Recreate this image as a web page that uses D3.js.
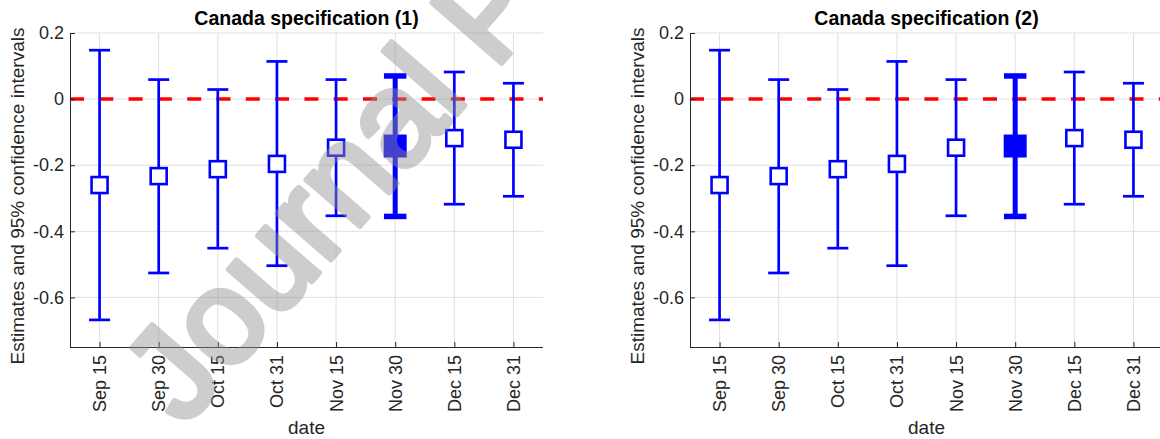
<!DOCTYPE html>
<html>
<head>
<meta charset="utf-8">
<script src="https://cdn.jsdelivr.net/npm/d3@7"></script>
<style>
  html, body { margin: 0; padding: 0; background: #fff; }
  svg { display: block; font-family: "Liberation Sans", Arial, Helvetica, sans-serif; }
</style>
</head>
<body>
<svg id="chart" width="1160" height="439"></svg>
<script>
// ---- data ----
const dates = ["Sep 15", "Sep 30", "Oct 15", "Oct 31", "Nov 15", "Nov 30", "Dec 15", "Dec 31"];
const estimates1 = [-0.260, -0.233, -0.212, -0.196, -0.147, -0.142, -0.118, -0.123];
const upper1     = [0.148, 0.059, 0.029, 0.114, 0.059, 0.070, 0.082, 0.048];
const lower1     = [-0.668, -0.526, -0.451, -0.504, -0.353, -0.355, -0.318, -0.294];
const estimates2 = [-0.260, -0.233, -0.212, -0.196, -0.147, -0.142, -0.118, -0.123];
const upper2     = [0.148, 0.059, 0.029, 0.114, 0.059, 0.070, 0.082, 0.048];
const lower2     = [-0.668, -0.526, -0.451, -0.504, -0.353, -0.355, -0.318, -0.294];
const highlighted = ["Nov 30"];
const yTicks = [0.2, 0, -0.2, -0.4, -0.6];
const yTickLabels = ["0.2", "0", "-0.2", "-0.4", "-0.6"];
const titles = ["Canada specification (1)", "Canada specification (2)"];
const xLabel = "date";
const yLabel = "Estimates and 95% confidence intervals";
const watermark = "Journal Pre-proof";

// ---- layout ----
const svg = d3.select("#chart");
const panels = [
  { left: 70, right: 543, est: estimates1, lo: lower1, hi: upper1, title: titles[0] },
  { left: 690, right: 1163, est: estimates2, lo: lower2, hi: upper2, title: titles[1] }
];
const plotTop = 33, plotBottom = 347;
const axisColor = "#262626";
const gridColor = "#e0e0e0";
const blue = "#0000ff";
const fontFam = "Liberation Sans, Arial, sans-serif";

panels.forEach(p => {
  const g = svg.append("g");
  const x = d3.scaleLinear().domain([0.5, dates.length + 0.5]).range([p.left, p.right]);
  const y = d3.scaleLinear().domain([-0.75, 0.2]).range([plotBottom, plotTop]);
  const xi = d => x(dates.indexOf(d) + 1);

  // grid
  g.append("g").selectAll("line").data(dates).join("line")
    .attr("x1", d => xi(d)).attr("x2", d => xi(d))
    .attr("y1", plotTop).attr("y2", plotBottom)
    .attr("stroke", gridColor).attr("stroke-width", 1);
  g.append("g").selectAll("line").data(yTicks).join("line")
    .attr("x1", p.left).attr("x2", p.right)
    .attr("y1", d => y(d)).attr("y2", d => y(d))
    .attr("stroke", gridColor).attr("stroke-width", 1);

  // zero line
  g.append("line")
    .attr("x1", p.left).attr("x2", p.right)
    .attr("y1", y(0)).attr("y2", y(0))
    .attr("stroke", "#ff0000").attr("stroke-width", 3.5)
    .attr("stroke-dasharray", "14,15.3");

  // axes
  const yAxis = d3.axisLeft(y).tickValues(yTicks)
    .tickFormat((d, i) => yTickLabels[i]).tickSize(-5).tickPadding(6);
  const ya = g.append("g").attr("transform", `translate(${p.left},0)`).call(yAxis);
  ya.select(".domain").attr("stroke", axisColor).attr("d", `M0.5,${plotTop}V${plotBottom}`);
  ya.selectAll(".tick line").attr("stroke", axisColor);
  ya.selectAll(".tick text").attr("fill", axisColor).attr("font-size", 18)
    .attr("font-family", fontFam);

  const xAxis = d3.axisBottom(x).tickValues(d3.range(1, dates.length + 1))
    .tickFormat(d => dates[d - 1]).tickSize(-5);
  const xa = g.append("g").attr("transform", `translate(0,${plotBottom})`).call(xAxis);
  xa.select(".domain").attr("stroke", axisColor).attr("d", `M${p.left},0.5H${p.right}`);
  xa.selectAll(".tick line").attr("stroke", axisColor);
  xa.selectAll(".tick text")
    .attr("fill", axisColor).attr("font-size", 18)
    .attr("font-family", fontFam)
    .attr("text-anchor", "end")
    .attr("dy", null).attr("y", null)
    .attr("dominant-baseline", "central")
    .attr("transform", "translate(0,8) rotate(-90)");

  // error bars
  const bars = g.append("g");
  dates.forEach((d, i) => {
    const hl = highlighted.includes(d);
    const cx = xi(d);
    const lw = hl ? 5 : 2.7;
    const cw = hl ? 22.5 : 21;
    const cap = hl ? 5.5 : 2.7;
    bars.append("line").attr("x1", cx).attr("x2", cx)
      .attr("y1", y(p.hi[i])).attr("y2", y(p.lo[i]))
      .attr("stroke", blue).attr("stroke-width", lw);
    [p.hi[i], p.lo[i]].forEach(v => {
      bars.append("line").attr("x1", cx - cw / 2).attr("x2", cx + cw / 2)
        .attr("y1", y(v)).attr("y2", y(v))
        .attr("stroke", blue).attr("stroke-width", cap);
    });
    const s = hl ? 20 : 16;
    bars.append("rect")
      .attr("x", cx - s / 2).attr("y", y(p.est[i]) - s / 2)
      .attr("width", s).attr("height", s)
      .attr("fill", hl ? blue : "#ffffff")
      .attr("stroke", blue).attr("stroke-width", hl ? 3 : 2.6);
  });

  // title
  g.append("text").attr("x", (p.left + p.right) / 2).attr("y", 25)
    .attr("text-anchor", "middle").attr("font-size", 19.5).attr("font-weight", "bold")
    .attr("fill", "#000").text(p.title);
  // x label
  g.append("text").attr("x", (p.left + p.right) / 2).attr("y", 434)
    .attr("text-anchor", "middle").attr("font-size", 19).attr("fill", axisColor).text(xLabel);
  // y label
  g.append("text").attr("transform", `translate(${p.left - 46},196) rotate(-90)`)
    .attr("text-anchor", "middle").attr("font-size", 19).attr("fill", axisColor).text(yLabel);
});

// watermark
const wm = svg.append("g").attr("opacity", 0.45);
wm.append("text")
  .attr("transform", "translate(184,428) rotate(-49)")
  .attr("font-size", 133)
  .attr("fill", "#929292").attr("stroke", "#929292").attr("stroke-width", 6)
  .attr("stroke-linejoin", "round")
  .text(watermark);
</script>
</body>
</html>
